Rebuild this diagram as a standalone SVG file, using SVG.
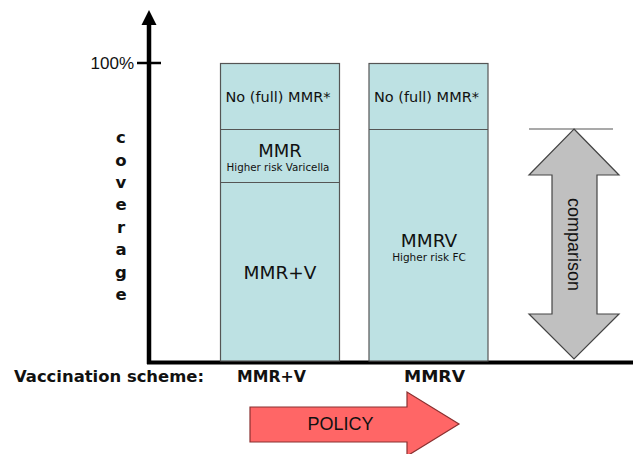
<svg xmlns="http://www.w3.org/2000/svg" width="633" height="454" viewBox="0 0 633 454">
<style>
.bar{fill:#bde1e3;stroke:#555;stroke-width:1.2}
.v{font-family:"DejaVu Sans",Verdana,sans-serif;fill:#111;text-anchor:middle}
.b{font-family:"DejaVu Sans",Verdana,sans-serif;font-weight:bold;fill:#111}
.a{font-family:"Liberation Sans",Arial,sans-serif;fill:#111}
</style>
<rect width="633" height="454" fill="#fff"/>
<g id="axes">
  <line x1="149" y1="22" x2="149" y2="364" stroke="#000" stroke-width="4.5"/>
  <polygon points="149,10 156.5,25 141.5,25" fill="#000"/>
  <line x1="147" y1="362.5" x2="633" y2="362.5" stroke="#000" stroke-width="4"/>
  <line x1="137" y1="63" x2="161" y2="63" stroke="#000" stroke-width="2.5"/>
  <text class="a" x="134" y="69" font-size="17" text-anchor="end">100%</text>
  <g class="b" font-size="16.5" text-anchor="middle">
    <text x="121" y="143">c</text>
    <text x="121" y="165.5">o</text>
    <text x="121" y="188">v</text>
    <text x="121" y="210">e</text>
    <text x="121" y="232.5">r</text>
    <text x="121" y="255">a</text>
    <text x="121" y="277.5">g</text>
    <text x="121" y="300">e</text>
  </g>
</g>
<g id="bar-mmr-v">
  <rect class="bar" x="220.5" y="63.5" width="119" height="297.5"/>
  <line x1="220.5" y1="129.5" x2="339.5" y2="129.5" stroke="#555" stroke-width="1.2"/>
  <line x1="220.5" y1="182.5" x2="339.5" y2="182.5" stroke="#555" stroke-width="1.2"/>
  <text class="v" x="278" y="102" font-size="14.5">No (full) MMR*</text>
  <text class="v" x="280" y="157" font-size="18">MMR</text>
  <text class="v" x="278" y="171" font-size="10.3">Higher risk Varicella</text>
  <text class="v" x="280" y="279" font-size="18.5">MMR+V</text>
</g>
<g id="bar-mmrv">
  <rect class="bar" x="369" y="63.5" width="119" height="297.5"/>
  <line x1="369" y1="129.5" x2="488" y2="129.5" stroke="#555" stroke-width="1.2"/>
  <text class="v" x="426.5" y="102" font-size="14.5">No (full) MMR*</text>
  <text class="v" x="429" y="247" font-size="18.5">MMRV</text>
  <text class="v" x="429" y="261" font-size="10.5">Higher risk FC</text>
</g>
<g id="comparison">
  <line x1="529" y1="129" x2="613" y2="129" stroke="#555" stroke-width="1.2"/>
  <polygon points="574,129 619,175 597,175 597,314 619,314 574,359 529,314 552,314 552,175 529,175" fill="#c0c0c0" stroke="#444" stroke-width="1.2"/>
  <text class="a" font-size="18" text-anchor="middle" transform="translate(568,244.5) rotate(90)">comparison</text>
</g>
<g id="labels">
  <text class="b" x="14" y="382" font-size="16.5" textLength="190" lengthAdjust="spacingAndGlyphs">Vaccination scheme:</text>
  <text class="b" x="237" y="382" font-size="16.5" textLength="69" lengthAdjust="spacingAndGlyphs">MMR+V</text>
  <text class="b" x="404" y="382" font-size="16.5" textLength="61" lengthAdjust="spacingAndGlyphs">MMRV</text>
</g>
<g id="policy">
  <polygon points="250,407 407,407 407,392 459,424 407,456 407,442 250,442" fill="#ff6666" stroke="#8a3030" stroke-width="1.2"/>
  <text class="a" x="340.5" y="430" font-size="18" text-anchor="middle">POLICY</text>
</g>
</svg>
